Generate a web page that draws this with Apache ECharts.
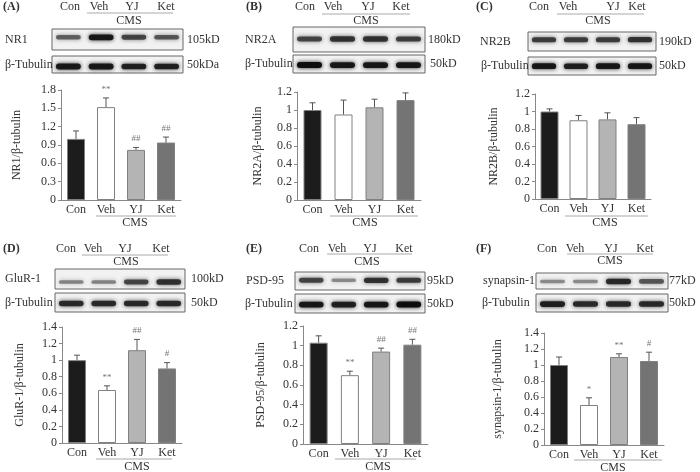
<!DOCTYPE html>
<html>
<head>
<meta charset="utf-8">
<script src="https://cdn.jsdelivr.net/npm/echarts@6/dist/echarts.min.js"></script>
<style>
html,body{margin:0;padding:0;background:#fff;}
#chart{width:700px;height:472px;}
</style>
</head>
<body>
<div id="chart"></div>
<script>
// ---------- data ----------
const groups = ['Con', 'Veh', 'YJ', 'Ket'];

const nr1Mean = [1.00, 1.52, 0.82, 0.94];
const nr1Err  = [0.13, 0.15, 0.04, 0.09];
const nr1Sig  = ['', '**', '##', '##'];

const nr2aMean = [1.00, 0.95, 1.03, 1.11];
const nr2aErr  = [0.08, 0.16, 0.09, 0.08];
const nr2aSig  = ['', '', '', ''];

const nr2bMean = [1.00, 0.90, 0.91, 0.855];
const nr2bErr  = [0.03, 0.055, 0.075, 0.075];
const nr2bSig  = ['', '', '', ''];

const glur1Mean = [1.00, 0.64, 1.12, 0.90];
const glur1Err  = [0.06, 0.05, 0.13, 0.07];
const glur1Sig  = ['', '**', '##', '#'];

const psd95Mean = [1.03, 0.70, 0.94, 1.01];
const psd95Err  = [0.07, 0.04, 0.035, 0.055];
const psd95Sig  = ['', '**', '##', '##'];

const synMean = [1.00, 0.50, 1.10, 1.05];
const synErr  = [0.10, 0.09, 0.04, 0.11];
const synSig  = ['', '*', '**', '#'];

const yMaxes = [1.8, 1.2, 1.2, 1.4, 1.2, 1.4];
const ySteps = [0.3, 0.2, 0.2, 0.2, 0.2, 0.2];

// blot band densities (0..1) per lane
const nr1Blot   = [0.55, 0.95, 0.70, 0.60];
const tubABlot  = [0.95, 0.95, 0.90, 0.90];
const nr2aBlot  = [0.70, 0.80, 0.80, 0.75];
const tubBBlot  = [1.00, 0.95, 0.95, 0.95];
const nr2bBlot  = [0.75, 0.75, 0.75, 0.80];
const tubCBlot  = [0.95, 0.90, 0.95, 0.95];
const glurBlot  = [0.35, 0.35, 0.70, 0.80];
const tubDBlot  = [0.85, 0.85, 0.85, 0.85];
const psdBlot   = [0.70, 0.30, 0.80, 0.75];
const tubEBlot  = [0.95, 0.90, 0.95, 1.00];
const synBlot   = [0.30, 0.30, 0.85, 0.60];
const tubFBlot  = [0.90, 0.85, 0.85, 0.85];

// ---------- layout ----------
const FONT = '"Liberation Serif", "DejaVu Serif", serif';
const TXT = '#333';
const barColors = ['#1c1c1c', '#ffffff', '#b4b4b4', '#747474'];

const panels = [
  { tag:'(A)', tagX:3, tagY:7, mean:nr1Mean, err:nr1Err, sig:nr1Sig, yName:'NR1/β-tubulin',
    grid:{left:61, top:90, width:120, height:110}, nameGap:38,
    head:{x:[70,99,132,166], y:7, line:[87,173,13], cms:[129,21]},
    foot:{line:[96,176,216], cms:[135,223]},
    blots:[{label:'NR1', lx:5, box:[52,29,131,21], band:0.3, dens:nr1Blot, kd:'105kD', kx:187},
           {label:'β-Tubulin', lx:5, box:[52,56,131,17], band:0.5, dens:tubABlot, kd:'50kDa', kx:187}] },
  { tag:'(B)', tagX:246, tagY:7, mean:nr2aMean, err:nr2aErr, sig:nr2aSig, yName:'NR2A/β-tubulin',
    grid:{left:297, top:92, width:124, height:108}, nameGap:33,
    head:{x:[305,333,368,401], y:7, line:[322,410,14], cms:[366,21]},
    foot:{line:[330,418,216], cms:[365,223]},
    blots:[{label:'NR2A', lx:245, box:[293,27,132,25], band:0.4, dens:nr2aBlot, kd:'180kD', kx:428},
           {label:'β-Tubulin', lx:245, box:[293,55,132,18], band:0.45, dens:tubBBlot, kd:'50kD', kx:430}] },
  { tag:'(C)', tagX:476, tagY:7, mean:nr2bMean, err:nr2bErr, sig:nr2bSig, yName:'NR2B/β-tubulin',
    grid:{left:535, top:94, width:116, height:105}, nameGap:35,
    head:{x:[539,568,613,637], y:7, line:[557,644,14], cms:[598,21]},
    foot:{line:[565,648,216], cms:[605,223]},
    blots:[{label:'NR2B', lx:480, box:[528,32,128,19], band:0.3, dens:nr2bBlot, kd:'190kD', kx:659},
           {label:'β-Tubulin', lx:481, box:[528,57,128,18], band:0.4, dens:tubCBlot, kd:'50kD', kx:659}] },
  { tag:'(D)', tagX:3, tagY:249, mean:glur1Mean, err:glur1Err, sig:glur1Sig, yName:'GluR-1/β-tubulin',
    grid:{left:62, top:327, width:120, height:116}, nameGap:36,
    head:{x:[66,93,125,161], y:249, line:[82,168,255], cms:[126,262]},
    foot:{line:[96,172,459], cms:[137,467]},
    blots:[{label:'GluR-1', lx:5, box:[55,269,130,20], band:0.55, dens:glurBlot, kd:'100kD', kx:191},
           {label:'β-Tubulin', lx:5, box:[55,293,130,19], band:0.45, dens:tubDBlot, kd:'50kD', kx:191}] },
  { tag:'(E)', tagX:246, tagY:249, mean:psd95Mean, err:psd95Err, sig:psd95Sig, yName:'PSD-95/β-tubulin',
    grid:{left:303, top:326, width:125, height:118}, nameGap:36,
    head:{x:[309,337,370,404], y:249, line:[327,412,254], cms:[367,262]},
    foot:{line:[335,416,459], cms:[378,467]},
    blots:[{label:'PSD-95', lx:246, box:[295,272,130,18], band:0.35, dens:psdBlot, kd:'95kD', kx:427},
           {label:'β-Tubulin', lx:245, box:[295,294,130,19], band:0.45, dens:tubEBlot, kd:'50kD', kx:427}] },
  { tag:'(F)', tagX:476, tagY:249, mean:synMean, err:synErr, sig:synSig, yName:'synapsin-1/β-tubulin',
    grid:{left:544, top:333, width:120, height:112}, nameGap:40,
    head:{x:[547,575,611,645], y:249, line:[567,653,254], cms:[610,261]},
    foot:{line:[574,662,460], cms:[613,468]},
    blots:[{label:'synapsin-1', lx:483, box:[536,273,132,16], band:0.4, dens:synBlot, kd:'77kD', kx:669},
           {label:'β-Tubulin', lx:482, box:[536,294,132,18], band:0.45, dens:tubFBlot, kd:'50kD', kx:669}] }
];

// ---------- build option ----------
const grids = [], xAxes = [], yAxes = [], series = [], graphics = [];

function txt(x, y, s, align, size, weight) {
  graphics.push({ type:'text', x:x, y:y, silent:true,
    style:{ text:s, fill:TXT, font:(weight||'normal') + ' ' + (size||12) + 'px ' + FONT,
            align:align||'center', verticalAlign:'middle' } });
}
function hline(x1, x2, y, color) {
  graphics.push({ type:'line', silent:true, shape:{x1:x1, y1:y, x2:x2, y2:y},
    style:{ stroke:color||'#999', lineWidth:1 } });
}

panels.forEach((p, k) => {
  grids.push(Object.assign({ containLabel:false }, p.grid));
  xAxes.push({ type:'category', gridIndex:k, data:groups,
    axisLine:{ lineStyle:{ color:'#888', width:1 } }, axisTick:{ show:false },
    axisLabel:{ color:TXT, fontSize:12, fontFamily:FONT, margin:4 } });
  yAxes.push({ type:'value', gridIndex:k, min:0, max:yMaxes[k], interval:ySteps[k],
    name:p.yName, nameLocation:'middle', nameGap:p.nameGap,
    nameTextStyle:{ color:TXT, fontSize:12, fontFamily:FONT },
    axisLine:{ show:true, lineStyle:{ color:'#888', width:1 } },
    axisTick:{ show:true, length:3, lineStyle:{ color:'#888' } },
    splitLine:{ show:false },
    axisLabel:{ color:TXT, fontSize:12, fontFamily:FONT, margin:5 } });
  series.push({ type:'bar', xAxisIndex:k, yAxisIndex:k, barWidth:18, animation:false,
    data:p.mean.map((v, i) => ({ value:v, itemStyle:{ color:barColors[i], borderColor:'#808080', borderWidth:1 } })) });
  const sig = p.sig;
  series.push({ type:'custom', xAxisIndex:k, yAxisIndex:k, animation:false, z:5,
    data:p.mean.map((v, i) => [i, v, p.err[i]]),
    renderItem:function(params, api) {
      const i = api.value(0), m = api.value(1), e = api.value(2);
      const a = api.coord([i, m]), b = api.coord([i, m + e]);
      const ch = [
        { type:'line', shape:{x1:a[0], y1:a[1], x2:b[0], y2:b[1]}, style:{ stroke:'#555', lineWidth:1 } },
        { type:'line', shape:{x1:b[0]-3, y1:b[1], x2:b[0]+3, y2:b[1]}, style:{ stroke:'#555', lineWidth:1 } }
      ];
      const s = sig[params.dataIndex];
      if (s) ch.push({ type:'text', x:b[0], y:b[1]-4,
        style:{ text:s, fill:'#777', font:'9px ' + FONT, align:'center', verticalAlign:'bottom' } });
      return { type:'group', children:ch };
    } });

  // panel tag and header
  txt(p.tagX, p.tagY, p.tag, 'left', 12, 'bold');
  p.head.x.forEach((x, i) => txt(x, p.head.y, groups[i], 'center', 12));
  hline(p.head.line[0], p.head.line[1], p.head.line[2], '#aaa');
  txt(p.head.cms[0], p.head.cms[1], 'CMS', 'center', 12);
  // footer under x axis
  hline(p.foot.line[0], p.foot.line[1], p.foot.line[2], '#aaa');
  txt(p.foot.cms[0], p.foot.cms[1], 'CMS', 'center', 12);

  // blots
  p.blots.forEach(bl => {
    const [bx, by, bw, bh] = bl.box;
    graphics.push({ type:'rect', silent:true, shape:{x:bx, y:by, width:bw, height:bh},
      style:{ fill:'#f2f2f2', stroke:'#666', lineWidth:1 } });
    const lane = bw / 4;
    const cy = by + bh * bl.band + 2;
    bl.dens.forEach((d, i) => {
      const w = lane * 0.76, h = 2.5 + 3.5 * d;
      const cx = bx + lane * (i + 0.5);
      const g = Math.round(120 - 110 * d);
      const col = 'rgba(' + g + ',' + g + ',' + g + ',' + (0.45 + 0.5 * d).toFixed(2) + ')';
      graphics.push({ type:'rect', silent:true,
        shape:{ x:cx - w / 2, y:cy - h / 2, width:w, height:h, r:h / 2 },
        style:{ fill:col, shadowBlur:4, shadowColor:col } });
    });
    txt(bl.lx, by + bh / 2, bl.label, 'left', 12);
    txt(bl.kx, by + bh / 2, bl.kd, 'left', 12);
  });
});

const chart = echarts.init(document.getElementById('chart'), null, { renderer:'canvas' });
chart.setOption({
  animation:false,
  backgroundColor:'#ffffff',
  grid:grids, xAxis:xAxes, yAxis:yAxes, series:series,
  graphic:graphics
});
</script>
</body>
</html>
